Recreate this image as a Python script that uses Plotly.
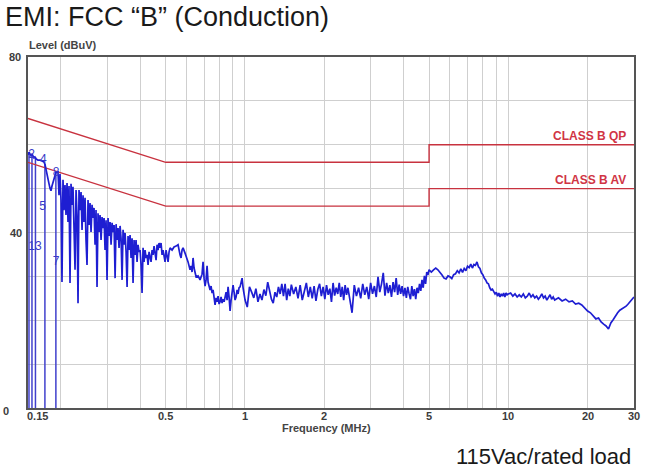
import math
import plotly.graph_objects as go

# ---------------- data ----------------
# conducted-emission scan (MHz, dBuV)
band1_freq = [0.1500, 0.1513, 0.1526, 0.1540, 0.1553, 0.1567, 0.1580, 0.1594, 0.1608, 0.1637,
              0.1666, 0.1695, 0.1724, 0.1739, 0.1755, 0.1771, 0.1787, 0.1803, 0.1818, 0.1834,
              0.1850, 0.1867, 0.1883, 0.1900, 0.1917, 0.1933]
band1_level = [57.7, 58.3, 57.9, 57.4, 57.9, 57.2, 57.0, 57.2, 56.8, 56.5,
               56.5, 56.3, 56.1, 55.6, 54.2, 52.9, 52.0, 51.1, 50.1, 49.5,
               50.6, 51.5, 52.4, 53.1, 53.8, 53.8]

band2_freq = [0.1950, 0.1967, 0.1984, 0.2002, 0.2019, 0.2037, 0.2055, 0.2073, 0.2091, 0.2110,
              0.2128, 0.2147, 0.2166, 0.2185, 0.2204, 0.2223, 0.2243, 0.2263, 0.2283, 0.2303,
              0.2323, 0.2343, 0.2364, 0.2385, 0.2406, 0.2427, 0.2448, 0.2470, 0.2491, 0.2513,
              0.2535, 0.2557, 0.2580, 0.2603, 0.2626, 0.2649, 0.2672, 0.2696, 0.2719, 0.2743,
              0.2767, 0.2792, 0.2816, 0.2841, 0.2866, 0.2891, 0.2917, 0.2942, 0.2968, 0.2994,
              0.3020, 0.3047, 0.3074, 0.3101, 0.3128, 0.3156, 0.3184, 0.3212, 0.3240, 0.3268,
              0.3296, 0.3325, 0.3355, 0.3384, 0.3414, 0.3444, 0.3474, 0.3505, 0.3536, 0.3567,
              0.3597, 0.3629, 0.3661, 0.3693, 0.3726, 0.3758, 0.3791, 0.3825, 0.3858, 0.3892,
              0.3926, 0.3961, 0.3996, 0.4031, 0.4066, 0.4102, 0.4138, 0.4174, 0.4211, 0.4248,
              0.4285, 0.4323, 0.4361, 0.4399, 0.4438, 0.4477, 0.4516, 0.4556, 0.4596, 0.4636,
              0.4676, 0.4717, 0.4759, 0.4801, 0.4843, 0.4885, 0.4928, 0.4972, 0.5015]
band2_level = [53.8, 48.5, 53.3, 47.4, 28.7, 52.0, 45.1, 50.8, 44.0, 51.3,
               42.4, 50.6, 28.5, 51.1, 46.3, 50.4, 41.7, 31.5, 49.7, 44.0,
               23.9, 49.7, 45.1, 49.2, 40.6, 48.5, 42.4, 47.9, 38.3, 32.6,
               47.4, 41.7, 46.7, 40.1, 46.3, 43.3, 45.6, 37.2, 45.1, 27.6,
               44.4, 40.1, 44.0, 38.3, 43.5, 41.0, 43.3, 36.0, 42.8, 29.2,
               43.3, 39.2, 42.4, 37.2, 42.2, 40.1, 41.7, 29.6, 41.9, 38.3,
               41.0, 36.5, 41.5, 38.7, 29.2, 40.6, 37.2, 39.9, 35.6, 27.6,
               39.2, 36.0, 39.4, 34.2, 38.7, 28.5, 38.3, 34.9, 38.3, 33.3,
               37.2, 35.6, 36.0, 32.6, 26.2, 36.5, 33.3, 36.0, 34.2, 34.9,
               32.6, 35.6, 34.4, 33.3, 36.0, 34.9, 36.9, 35.6, 33.7, 37.2,
               36.0, 37.6, 36.5, 37.6, 34.9, 36.0, 34.2, 33.3, 36.0]

band3_freq = [0.5060, 0.5104, 0.5149, 0.5194, 0.5286, 0.5379, 0.5474, 0.5570, 0.5668, 0.5718,
              0.5768, 0.5819, 0.5921, 0.6026, 0.6079, 0.6186, 0.6241, 0.6296, 0.6351, 0.6407,
              0.6520, 0.6635, 0.6752, 0.6871, 0.6931, 0.6992, 0.7054, 0.7116, 0.7178, 0.7241,
              0.7369, 0.7434, 0.7499, 0.7565, 0.7632, 0.7699, 0.7767, 0.7835, 0.7903, 0.7973,
              0.8043, 0.8114, 0.8185, 0.8257, 0.8330, 0.8403, 0.8477, 0.8551, 0.8625, 0.8701,
              0.8778, 0.8855, 0.8933, 0.9011, 0.9090, 0.9170, 0.9251, 0.9332, 0.9413, 0.9496,
              0.9580, 0.9664, 0.9749, 0.9835, 0.9921, 1.0009]
band3_level = [34.4, 33.3, 35.6, 36.5, 36.0, 36.7, 36.9, 37.2, 34.9, 34.2,
               36.0, 36.5, 35.3, 34.2, 33.3, 31.5, 32.4, 31.0, 34.2, 31.9,
               29.9, 30.1, 29.2, 30.5, 33.3, 29.6, 27.8, 29.2, 32.4, 28.7,
               26.9, 27.8, 26.2, 26.9, 24.6, 23.5, 25.1, 24.2, 25.5, 23.7,
               24.2, 25.3, 23.9, 24.8, 24.2, 25.1, 26.4, 24.6, 27.6, 25.3,
               22.1, 24.6, 26.4, 28.0, 26.4, 24.6, 25.3, 26.9, 26.0, 27.4,
               27.6, 28.7, 29.6, 27.4, 25.5, 24.6]

band4_freq = [1.02, 1.04, 1.06, 1.08, 1.10, 1.12, 1.14, 1.16, 1.18, 1.20,
              1.22, 1.24, 1.26, 1.28, 1.30, 1.32, 1.34, 1.36, 1.38, 1.40,
              1.42, 1.44, 1.46, 1.48, 1.50,
              1.53, 1.56, 1.59, 1.62, 1.65, 1.68, 1.71, 1.74, 1.77, 1.80,
              1.83, 1.86, 1.89, 1.92, 1.95, 1.98, 2.01, 2.04, 2.07, 2.10,
              2.13, 2.16, 2.19, 2.22, 2.25, 2.28, 2.31, 2.34, 2.37, 2.40,
              2.43, 2.46,
              2.50, 2.55, 2.60, 2.65, 2.70, 2.75, 2.80, 2.85, 2.90, 2.95,
              3.00, 3.05, 3.10, 3.15, 3.20, 3.25, 3.30, 3.35, 3.40, 3.45,
              3.50, 3.55, 3.60, 3.65, 3.70, 3.75, 3.80, 3.85, 3.90, 3.95,
              4.00, 4.05, 4.10, 4.15, 4.20, 4.25, 4.30, 4.35, 4.40, 4.45,
              4.50, 4.55, 4.60, 4.65, 4.70, 4.75, 4.80, 4.85, 4.90, 4.95,
              5.00]
band4_level = [23.0, 27.6, 26.4, 25.1, 27.2, 24.2, 26.0, 24.6, 27.0, 25.6,
               28.7, 26.6, 24.8, 23.9, 26.4, 25.3, 27.6, 26.0, 28.3, 25.5,
               28.3, 24.6, 27.2, 25.5, 28.1,
               26.0, 27.6, 25.0, 28.0, 24.6, 26.8, 28.5, 25.3, 27.6, 25.0,
               27.8, 24.4, 27.0, 28.3, 25.5, 27.6, 24.8, 28.0, 25.8, 27.2,
               24.2, 28.5, 25.6, 27.4, 26.0, 28.5, 25.3, 27.6, 24.6, 28.0,
               25.8, 27.4,
               24.8, 21.7, 28.0, 25.5, 27.4, 25.0, 28.3, 25.8, 27.6, 24.8,
               28.5, 26.0, 27.8, 25.3, 29.9, 26.4, 28.3, 30.8, 25.6, 28.5,
               26.2, 28.0, 25.3, 28.7, 26.4, 29.6, 25.8, 28.1, 26.0, 27.8,
               25.5, 27.4, 25.1, 27.6, 26.0, 24.8, 27.8, 25.5, 27.1, 24.8,
               27.4, 26.2, 28.3, 26.7, 29.2, 27.4, 30.1, 28.3, 31.0, 30.3,
               31.5]

band5_freq = [5.1, 5.2, 5.3, 5.4, 5.5, 5.6, 5.7, 5.8, 5.9, 6.0,
              6.1, 6.2, 6.3, 6.4, 6.5, 6.6, 6.7, 6.8, 6.9, 7.0,
              7.1, 7.2, 7.3, 7.4, 7.5, 7.6, 7.7, 7.8, 7.9, 8.0,
              8.1, 8.2, 8.3, 8.4, 8.5, 8.6, 8.7, 8.8, 8.9, 9.0,
              9.1, 9.2, 9.3, 9.4, 9.5, 9.6, 9.7, 9.8, 9.9, 10.0]
band5_level = [31.0, 31.5, 31.9, 31.5, 31.0, 30.3, 29.6, 29.4, 30.1, 29.9,
               29.5, 30.4, 30.6, 31.3, 30.8, 31.7, 30.9, 31.8, 31.3, 32.3,
               32.0, 32.8, 31.9, 32.7, 32.5, 33.3, 32.2, 31.8, 30.8, 30.4,
               29.6, 29.2, 28.5, 28.3, 27.4, 26.9, 27.1, 26.4, 26.0, 26.4,
               25.5, 26.2, 25.3, 26.0, 25.5, 26.2, 25.3, 26.2, 25.8, 26.0]

band6_freq = [10.2, 10.4, 10.6, 10.8, 11.0, 11.2, 11.4, 11.6, 11.8, 12.0,
              12.2, 12.4, 12.6, 12.8, 13.0, 13.2, 13.4, 13.6, 13.8, 14.0,
              14.2, 14.4, 14.6, 14.8, 15.0,
              15.5, 16.0, 16.5, 17.0, 17.5, 18.0, 18.5, 19.0, 19.5, 20.0,
              20.5, 21.0, 21.5, 22.0, 22.5, 23.0, 23.5, 24.0, 24.5, 25.0,
              25.5, 26.0, 26.5, 27.0, 27.5, 28.0, 28.5, 29.0, 29.5, 30.0]
band6_level = [26.2, 25.5, 26.0, 25.3, 25.8, 25.3, 26.0, 25.1, 25.5, 26.2,
               25.3, 25.8, 25.1, 25.5, 24.8, 25.3, 26.0, 25.1, 25.5, 24.6,
               25.3, 25.8, 24.8, 25.3, 24.6,
               25.1, 24.4, 24.8, 24.2, 24.4, 23.7, 23.9, 23.5, 22.8, 22.1,
               21.7, 21.0, 20.3, 20.5, 19.6, 19.1, 18.7, 18.0, 19.4, 20.1,
               21.0, 21.7, 22.3, 22.6, 23.0, 23.2, 23.7, 24.2, 24.6, 25.3]

# low-frequency drop lines (trace going off-scale to 0)
drop_freq = [0.1513, 0.1553, 0.1601, 0.1739, 0.1914]
drop_top = [58.3, 57.9, 57.2, 55.6, 53.8]

# marker labels
marker_freq = [0.1549, 0.1715, 0.1917, 0.1705, 0.1594, 0.1917]
marker_level = [57.7, 56.5, 53.6, 45.8, 36.7, 33.3]
marker_text = ["2", "4", "8", "5", "13", "7"]

# FCC class B limits
limit_freq = [0.15, 0.5, 5, 5, 30]
qp_limit = [66, 56, 56, 60, 60]
av_limit = [56, 46, 46, 50, 50]

x_gridvals = [0.15, 0.2, 0.3, 0.4, 0.5, 0.6, 0.7, 0.8, 0.9, 1, 2, 3, 4, 5, 6, 7, 8, 9, 10, 20, 30]
x_labelvals = [0.5, 1, 2, 5, 10, 20, 30]
x_labeltext = ["0.5", "1", "2", "5", "10", "20", "30"]
y_gridvals = [0, 10, 20, 30, 40, 50, 60, 70, 80]
y_labelvals = [0, 40, 80]
y_labeltext = ["0", "40", "80"]

# ---------------- figure ----------------
freq = band1_freq + band2_freq + band3_freq + band4_freq + band5_freq + band6_freq
level = band1_level + band2_level + band3_level + band4_level + band5_level + band6_level

FONT = "Arial, Liberation Sans, sans-serif"
RED = "#c8323f"
BLUE = "#1e1ed2"
TICKC = "#3c3c3c"

fig = go.Figure()

drop_x, drop_y = [], []
for f, t in zip(drop_freq, drop_top):
    drop_x += [f, f, None]
    drop_y += [0, t, None]

fig.add_trace(go.Scatter(x=drop_x, y=drop_y, mode="lines",
                         line=dict(color="#4040cc", width=1.5), hoverinfo="skip"))
fig.add_trace(go.Scatter(x=limit_freq, y=qp_limit, mode="lines",
                         line=dict(color=RED, width=1.4)))
fig.add_trace(go.Scatter(x=limit_freq, y=av_limit, mode="lines",
                         line=dict(color=RED, width=1.4)))
fig.add_trace(go.Scatter(x=freq, y=level, mode="lines",
                         line=dict(color=BLUE, width=1.7)))
fig.add_trace(go.Scatter(x=marker_freq, y=marker_level, mode="text", text=marker_text,
                         textposition="middle center",
                         textfont=dict(family=FONT, size=12, color="#3838c8")))

fig.update_xaxes(type="log", range=[math.log10(0.15), math.log10(30)],
                 tickvals=x_gridvals, showticklabels=False,
                 showgrid=True, gridcolor="#cfcfcf", gridwidth=1,
                 showline=True, mirror=True, linecolor="#555555", linewidth=1.5,
                 ticks="", zeroline=False, automargin=False)
fig.update_yaxes(range=[0, 80], tickvals=y_gridvals, showticklabels=False,
                 showgrid=True, gridcolor="#cfcfcf", gridwidth=1,
                 showline=True, mirror=True, linecolor="#555555", linewidth=1.5,
                 ticks="", zeroline=False, automargin=False)

tick_font = dict(family=FONT, size=11, color=TICKC, weight="bold")
annotations = []
# x tick labels
for v, t in zip(x_labelvals, x_labeltext):
    annotations.append(dict(text=t, xref="x", yref="paper", x=math.log10(v), y=-0.024,
                            xanchor="center", yanchor="middle", showarrow=False,
                            font=tick_font))
annotations.append(dict(text="0.15", xref="x", yref="paper", x=math.log10(0.15), y=-0.024,
                        xanchor="left", yanchor="middle", showarrow=False, xshift=-3,
                        font=tick_font))
# y tick labels
y_label_xpaper = {0: -0.028, 40: -0.006, 80: -0.008}
y_label_shift = {0: -3, 40: 0, 80: 0}
for v, t in zip(y_labelvals, y_labeltext):
    annotations.append(dict(text=t, xref="paper", yref="y", x=y_label_xpaper[v], y=v,
                            xanchor="right", yanchor="middle", showarrow=False,
                            yshift=y_label_shift[v], font=tick_font))

annotations += [
    dict(text="EMI: FCC “B” (Conduction)", xref="paper", yref="paper", x=-0.042, y=1.114,
         xanchor="left", yanchor="middle", showarrow=False,
         font=dict(family=FONT, size=27, color="#1a1a1a")),
    dict(text="Level (dBuV)", xref="paper", yref="paper", x=-0.002, y=1.034,
         xanchor="left", yanchor="middle", showarrow=False,
         font=dict(family=FONT, size=11, color="#444444", weight="bold")),
    dict(text="Frequency (MHz)", xref="paper", yref="paper", x=0.492, y=-0.057,
         xanchor="center", yanchor="middle", showarrow=False,
         font=dict(family=FONT, size=11, color="#444444", weight="bold")),
    dict(text="115Vac/rated load", xref="paper", yref="paper", x=0.998, y=-0.137,
         xanchor="right", yanchor="middle", showarrow=False,
         font=dict(family=FONT, size=22, color="#1a1a1a")),
    dict(text="CLASS B QP", xref="paper", yref="y", x=0.990, y=60,
         xanchor="right", yanchor="bottom", showarrow=False,
         font=dict(family=FONT, size=12, color="#d03444", weight="bold")),
    dict(text="CLASS B AV", xref="paper", yref="y", x=0.990, y=50,
         xanchor="right", yanchor="bottom", showarrow=False,
         font=dict(family=FONT, size=12, color="#d03444", weight="bold")),
]

fig.update_layout(width=660, height=470,
                  margin=dict(l=28, r=26, t=57, b=62, autoexpand=False),
                  paper_bgcolor="white", plot_bgcolor="white",
                  showlegend=False, hovermode=False,
                  annotations=annotations)

fig.write_html("out.html", config={"displayModeBar": False},
               post_script="document.body.style.margin='0';document.body.style.overflow='hidden';")
